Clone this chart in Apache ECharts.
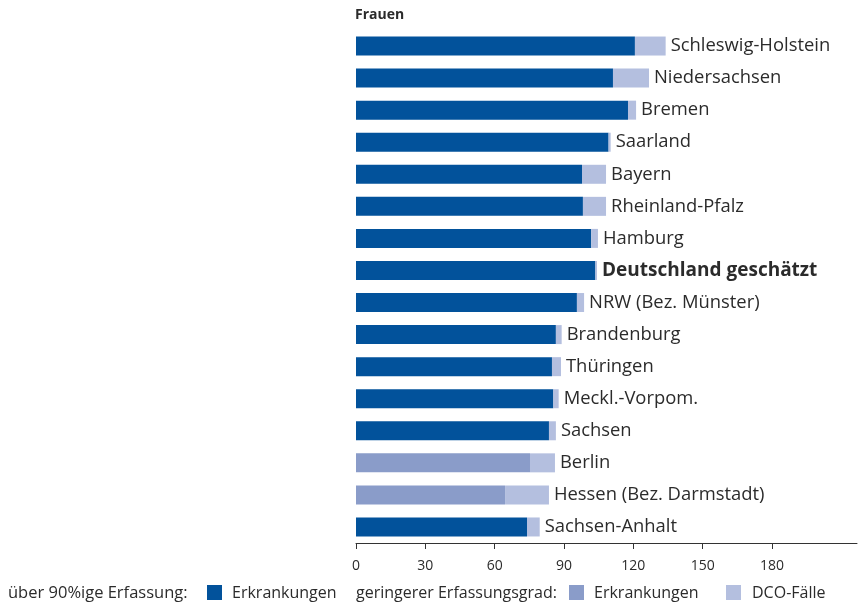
<!DOCTYPE html>
<html>
<head>
<meta charset="utf-8">
<script src="https://cdn.jsdelivr.net/npm/echarts@6/dist/echarts.min.js"></script>
<style>html,body{margin:0;padding:0;background:#fff}#c{width:858px;height:604px}</style>
</head>
<body>
<div id="c"></div>
<script>
const categories = ["Schleswig-Holstein","Niedersachsen","Bremen","Saarland","Bayern","Rheinland-Pfalz","Hamburg","Deutschland geschätzt","NRW (Bez. Münster)","Brandenburg","Thüringen","Meckl.-Vorpom.","Sachsen","Berlin","Hessen (Bez. Darmstadt)","Sachsen-Anhalt"];
const erkrankungen = [120.7,111.2,117.7,109.3,97.8,98.2,101.8,103.6,95.6,86.5,84.8,85.4,83.5,75.3,64.5,74.0];
const dcoFaelle = [13.3,15.6,3.5,0.9,10.4,10.0,2.9,0.7,3.1,2.5,3.9,2.3,3.0,10.8,19.0,5.5];
const geringereErfassung = ["Berlin","Hessen (Bez. Darmstadt)"];
const highlightCategory = "Deutschland geschätzt";
const tickValues = [0,30,60,90,120,150,180];

const DARK = '#02529b', MED = '#8a9cc9', LIGHT = '#b4bfdf';
const FONT = '"Open Sans", sans-serif';
const TXT = '#2b2b2b';

const chart = echarts.init(document.getElementById('c'), null, {renderer: 'canvas'});
chart.setOption({
  animation: false,
  textStyle: {fontFamily: FONT},
  grid: {left: 356, right: 1, top: 30, height: 513, containLabel: false},
  xAxis: {
    type: 'value', min: 0, max: 216.8, interval: 30,
    axisLine: {show: true, lineStyle: {color: '#333', width: 1}},
    axisTick: {show: true, length: 6, lineStyle: {color: '#333'}, customValues: tickValues},
    axisLabel: {customValues: tickValues, color: TXT, fontSize: 14, fontFamily: FONT, margin: 16},
    splitLine: {show: false}
  },
  yAxis: {
    type: 'category', data: categories, inverse: true,
    axisLine: {show: false}, axisTick: {show: false}, axisLabel: {show: false}
  },
  series: [
    {
      name: 'Erkrankungen', type: 'bar', stack: 'a', barWidth: 19,
      data: erkrankungen.map((v, i) => ({
        value: v,
        itemStyle: {color: geringereErfassung.includes(categories[i]) ? MED : DARK}
      }))
    },
    {
      name: 'DCO-Fälle', type: 'bar', stack: 'a', barWidth: 19,
      itemStyle: {color: LIGHT},
      data: dcoFaelle,
      label: {
        show: true, position: 'right', distance: 5,
        fontSize: 18.4, fontFamily: FONT, color: TXT,
        formatter: p => p.name === highlightCategory ? '{b|' + p.name + '}' : p.name,
        rich: {b: {fontWeight: 'bold', fontSize: 19, fontFamily: FONT, color: TXT}}
      }
    }
  ],
  graphic: [
    {type: 'text', left: 355, top: 8, style: {text: 'Frauen', font: 'bold 14px ' + FONT, fill: TXT}},
    {type: 'text', x: 8, y: 593, style: {text: 'über 90%ige Erfassung:', font: '16.5px ' + FONT, fill: TXT, verticalAlign: 'middle'}},
    {type: 'rect', shape: {x: 207, y: 585, width: 15, height: 15}, style: {fill: DARK}},
    {type: 'text', x: 232, y: 593, style: {text: 'Erkrankungen', font: '16px ' + FONT, fill: TXT, verticalAlign: 'middle'}},
    {type: 'text', x: 356, y: 593, style: {text: 'geringerer Erfassungsgrad:', font: '16px ' + FONT, fill: TXT, verticalAlign: 'middle'}},
    {type: 'rect', shape: {x: 569, y: 585, width: 15, height: 15}, style: {fill: MED}},
    {type: 'text', x: 594, y: 593, style: {text: 'Erkrankungen', font: '16px ' + FONT, fill: TXT, verticalAlign: 'middle'}},
    {type: 'rect', shape: {x: 726, y: 585, width: 15, height: 15}, style: {fill: LIGHT}},
    {type: 'text', x: 752, y: 593, style: {text: 'DCO-Fälle', font: '16px ' + FONT, fill: TXT, verticalAlign: 'middle'}}
  ]
});
</script>
</body>
</html>
